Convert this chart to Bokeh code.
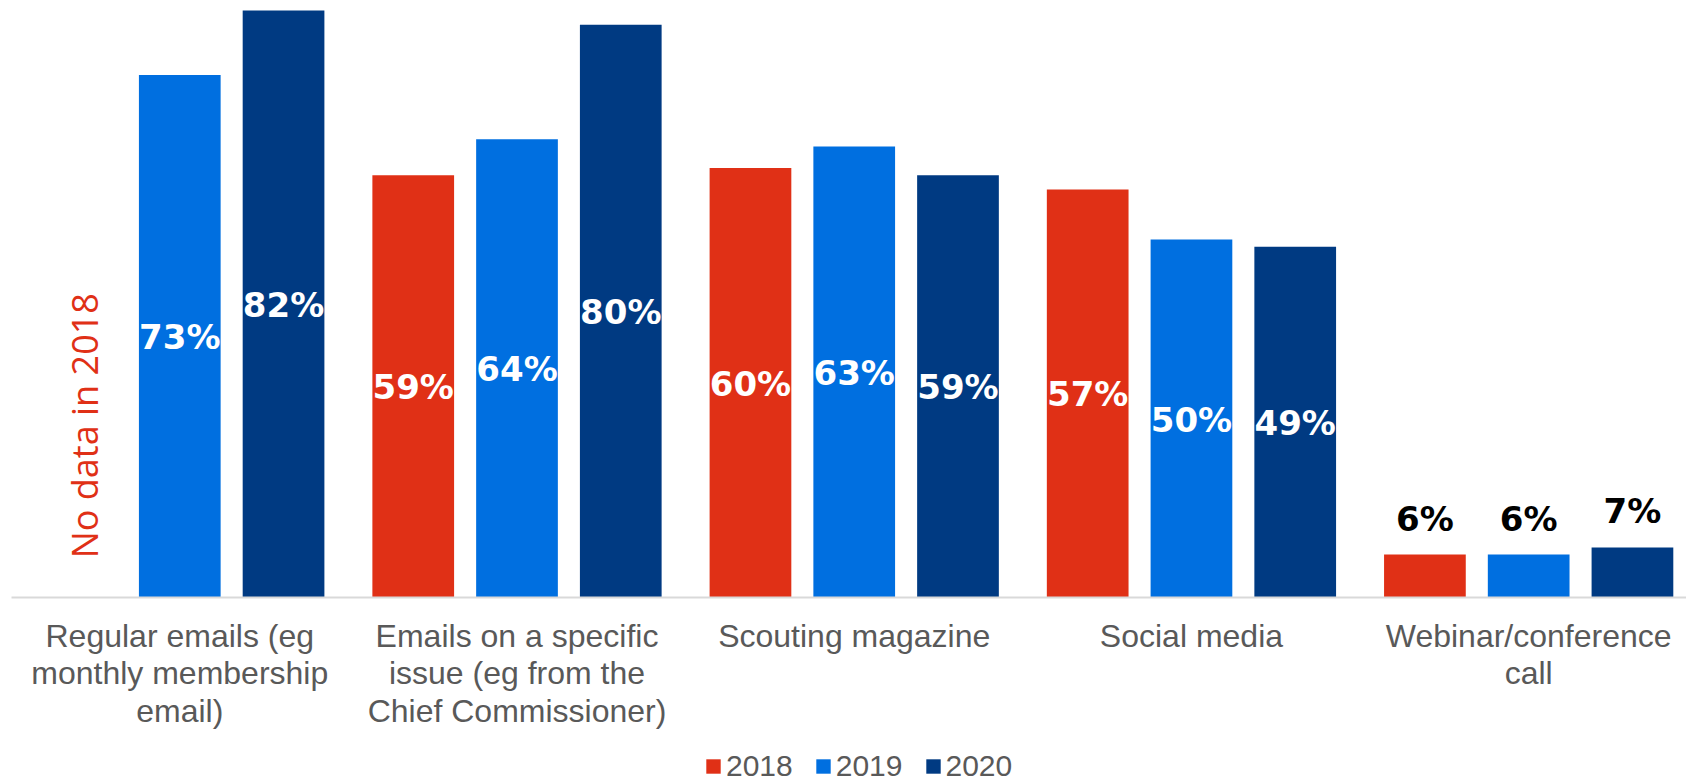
import math
from bokeh.plotting import figure
from bokeh.layouts import column
from bokeh.models import ColumnDataSource, Range1d, FixedTicker, Legend, LegendItem
from bokeh.core.properties import value
from bokeh.embed import file_html
from bokeh.resources import INLINE

# ---------------- data ----------------
categories = [
    "Regular emails (eg\nmonthly membership\nemail)",
    "Emails on a specific\nissue (eg from the\nChief Commissioner)",
    "Scouting magazine",
    "Social media",
    "Webinar/conference\ncall",
]
years = ["2018", "2019", "2020"]
v2018 = [float("nan"), 59, 60, 57, 6]
v2019 = [73, 64, 63, 50, 6]
v2020 = [82, 80, 59, 49, 7]
note_text = "No data in 2018"

# ---------------- styles ----------------
colors = ["#E03016", "#006FE0", "#003A82"]
offsets = [-0.3077, 0.0, 0.3077]
bar_w = 0.2423
grey = "#595959"

W = 1686
H1, H2 = 745, 36
p = figure(width=W, height=H1, output_backend="svg", toolbar_location=None,
           x_range=Range1d(-0.499, 4.468), y_range=Range1d(0, 83.4),
           y_axis_location=None, min_border_left=11, min_border_right=0,
           min_border_top=0, min_border_bottom=H1 - 597, tools="")
p.outline_line_color = None
p.xgrid.visible = False
p.ygrid.visible = False
p.background_fill_color = "white"
p.border_fill_color = "white"

xs = list(range(len(categories)))
series = [v2018, v2019, v2020]
for vals, off, col in zip(series, offsets, colors):
    src = ColumnDataSource(dict(x=[x + off for x in xs], top=vals))
    p.vbar(x="x", top="top", width=bar_w, source=src, fill_color=col, line_color=None)

# value labels
in_x, in_y, in_t = [], [], []
out_x, out_y, out_t = [], [], []
for vals, off in zip(series, offsets):
    for x, v in zip(xs, vals):
        if isinstance(v, float) and math.isnan(v):
            continue
        if v >= 20:
            in_x.append(x + off); in_y.append(v / 2); in_t.append(f"{v}%")
        else:
            out_x.append(x + off); out_y.append(v); out_t.append(f"{v}%")

p.text(x=in_x, y=in_y, text=in_t, text_align="center", text_baseline="middle",
       text_color="white", text_font=value("DejaVu Sans"), text_font_style="bold",
       text_font_size="34px", y_offset=1)
p.text(x=out_x, y=out_y, text=out_t, text_align="center", text_baseline="alphabetic",
       text_color="black", text_font=value("DejaVu Sans"), text_font_style="bold",
       text_font_size="34px", y_offset=-36)

# note for missing 2018 data
p.text(x=[xs[0] + offsets[0]], y=[24], text=[note_text], angle=math.pi / 2,
       text_align="center", text_baseline="alphabetic", x_offset=8,
       text_color="#E03016", text_font=value("Open Sans"), text_font_size="36px")

# x axis
ax = p.xaxis[0]
ax.ticker = FixedTicker(ticks=xs)
ax.major_label_overrides = {x: c for x, c in zip(xs, categories)}
ax.major_tick_line_color = None
ax.minor_tick_line_color = None
ax.major_tick_out = 0
ax.major_tick_in = 0
ax.axis_line_color = "#D9D9D9"
ax.axis_line_width = 2
ax.major_label_standoff = 20
ax.major_label_text_font = "Liberation Sans"
ax.major_label_text_font_size = "32px"
ax.major_label_text_color = grey
ax.major_label_text_line_height = 1.05

# ---------------- legend strip ----------------
p2 = figure(width=W, height=H2, output_backend="svg", toolbar_location=None,
            x_range=Range1d(-0.5, 4.5), y_range=Range1d(0, 1),
            x_axis_location=None, y_axis_location=None,
            min_border_left=0, min_border_right=0, min_border_top=0, min_border_bottom=0,
            tools="")
p2.outline_line_color = None
p2.xgrid.visible = False
p2.ygrid.visible = False
# hidden swatch renderers: only their legend glyphs are shown
swatches = []
for vals, c in zip(series, colors):
    r = p2.vbar(x=xs, top=vals, width=bar_w, fill_color=c, line_color=None)
    r.visible = False
    swatches.append(r)
legend = Legend(items=[LegendItem(label=y, renderers=[r]) for y, r in zip(years, swatches)],
                orientation="horizontal", location=(693, -2),
                glyph_width=18, glyph_height=18, label_standoff=4, spacing=21,
                padding=0, margin=0, border_line_color=None, background_fill_alpha=0,
                label_text_font="Liberation Sans", label_text_font_size="30px",
                label_text_color=grey)
p2.add_layout(legend)

layout = column(p, p2, spacing=0)
open("out.html", "w").write(file_html(layout, INLINE))
